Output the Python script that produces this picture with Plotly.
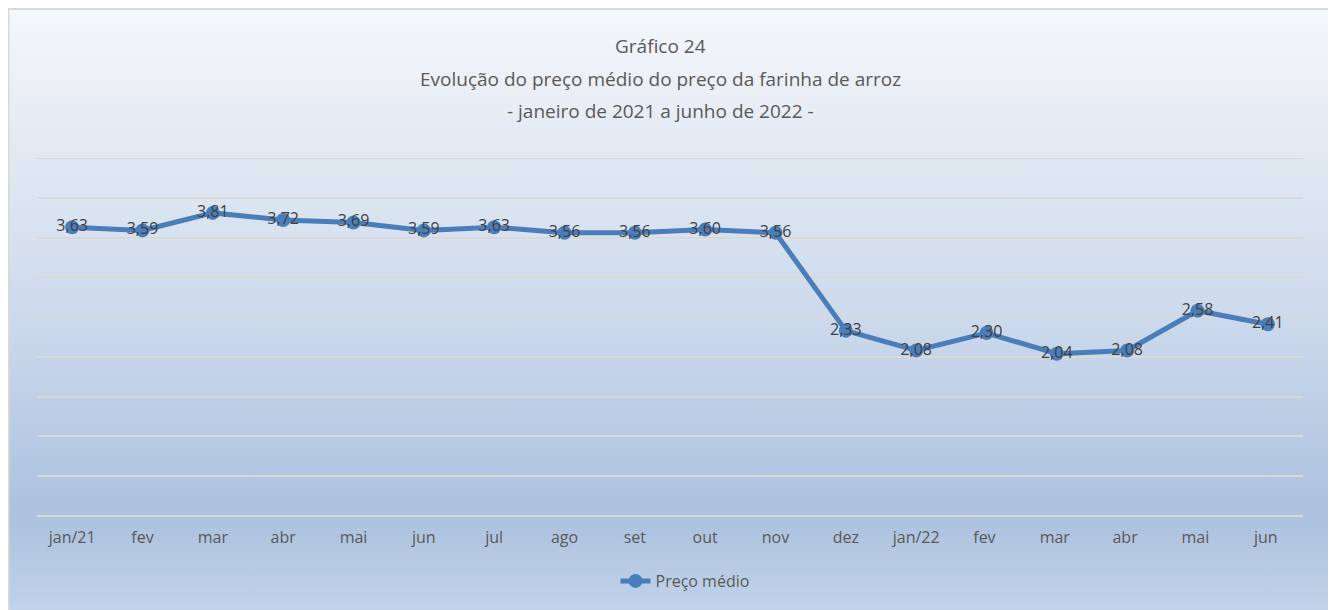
import base64
import plotly.graph_objects as go

categories = ["jan/21", "fev", "mar", "abr", "mai", "jun", "jul", "ago", "set", "out", "nov",
              "dez", "jan/22", "fev ", "mar ", "abr ", "mai ", "jun "]
precos = [3.63, 3.59, 3.81, 3.72, 3.69, 3.59, 3.63, 3.56, 3.56, 3.60, 3.56,
          2.33, 2.08, 2.30, 2.04, 2.08, 2.58, 2.41]
title_lines = ["Gráfico 24",
               "Evolução do preço médio do preço da farinha de arroz",
               "- janeiro de 2021 a junho de 2022 -"]
series_name = "Preço médio"
y_max = 4.5

W, H = 1336, 610
OFF = 8  # page offset of the figure (body margin)
L, T = 37 - OFF, 158 - OFF
R, B = W - (1303 - OFF), H - (516 - OFF)
pw, ph = W - L - R, H - T - B

def px_x(px):  # page pixel -> paper
    return (px - OFF - L) / pw

def px_y(py):
    return (H - B - (py - OFF)) / ph

FONT = "Open Sans, Noto Sans, sans-serif"
LINE = "#4a7ebb"
GRID = "#d9d9d9"

GW = 1324
svg = f'''<svg xmlns="http://www.w3.org/2000/svg" width="{GW}" height="{H}" preserveAspectRatio="none">
<defs><linearGradient id="g" x1="0" y1="0" x2="0" y2="1">
<stop offset="0" stop-color="#f5f8fc"/>
<stop offset="0.2" stop-color="#e5ebf4"/>
<stop offset="0.5" stop-color="#cddaec"/>
<stop offset="0.82" stop-color="#adc2df"/>
<stop offset="0.86" stop-color="#afc4e0"/>
<stop offset="1" stop-color="#c3d4ea"/>
</linearGradient></defs>
<rect x="0" y="0" width="{GW}" height="{H}" fill="url(#g)"/></svg>'''
src = "data:image/svg+xml;base64," + base64.b64encode(svg.encode()).decode()

fig = go.Figure()
fig.add_trace(go.Scatter(
    x=categories, y=precos, mode="lines+markers+text", name=series_name,
    line=dict(color=LINE, width=5),
    marker=dict(color=LINE, size=14),
    texttemplate="%{y:.2f}", textposition="middle center",
    textfont=dict(family=FONT, size=16, color="#404040"),
    cliponaxis=False,
))

annotations = []
for txt, py in zip(title_lines, [46, 79, 111]):
    annotations.append(dict(text=txt, xref="paper", yref="paper", x=px_x(660), y=px_y(py),
                            xanchor="center", yanchor="middle", showarrow=False,
                            font=dict(family=FONT, size=19, color="#595959")))

fig.update_layout(
    width=W, height=H,
    margin=dict(l=L, r=R, t=T, b=B),
    paper_bgcolor="white", plot_bgcolor="rgba(0,0,0,0)",
    separators=", ",
    images=[dict(source=src, xref="paper", yref="paper", x=px_x(OFF), y=px_y(OFF),
                 sizex=GW / pw, sizey=H / ph, sizing="stretch", layer="below",
                 xanchor="left", yanchor="top")],
    shapes=[
        dict(type="line", xref="paper", yref="y", x0=0, x1=1, y0=y_max, y1=y_max,
             line=dict(color=GRID, width=2), layer="below"),
        dict(type="rect", xref="paper", yref="paper", x0=px_x(8.5), x1=px_x(1331.5),
             y0=px_y(9), y1=px_y(630), line=dict(color=GRID, width=2),
             fillcolor="rgba(0,0,0,0)", layer="above"),
    ],
    annotations=annotations,
    xaxis=dict(type="category", range=[-0.5, len(categories) - 0.5], showgrid=False,
               showline=False, ticks="outside", ticklen=7, tickcolor="rgba(0,0,0,0)",
               tickfont=dict(family=FONT, size=16, color="#595959"), fixedrange=True),
    yaxis=dict(range=[0, y_max], tick0=0, dtick=0.5, showgrid=True, gridcolor=GRID,
               gridwidth=2, zeroline=True, zerolinecolor=GRID, zerolinewidth=2,
               showticklabels=False, showline=False),
    showlegend=True,
    legend=dict(orientation="h", x=px_x(685), xanchor="center", y=px_y(581), yanchor="middle",
                bgcolor="rgba(0,0,0,0)", font=dict(family=FONT, size=16, color="#595959")),
)

fig.write_html("out.html")
